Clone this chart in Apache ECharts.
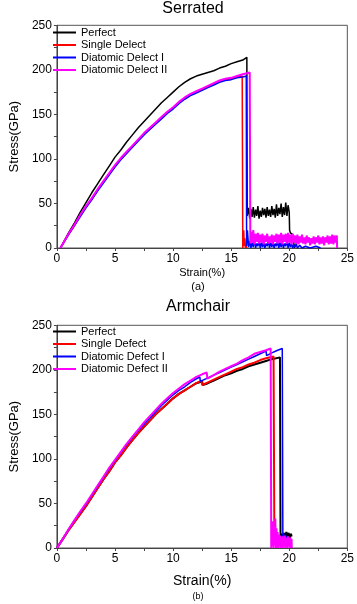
<!DOCTYPE html>
<html>
<head>
<meta charset="utf-8">
<script src="https://cdn.jsdelivr.net/npm/echarts@6/dist/echarts.min.js"></script>
<style>
  html, body { margin: 0; padding: 0; background: #fff; }
  #chart { width: 357px; height: 604px; }
</style>
</head>
<body>
<div id="chart"></div>
<script>
// (a) Serrated - [strain %, stress GPa]
var serPerfect = [[0.3,0],[1,17],[1.5,28],[2,40],[2.5,51],[3,62],[3.5,72],[4,82],[4.5,92],[5,102],[5.5,110],[6,119],[6.5,127],[7,135],[7.5,142],[8,149],[8.5,156],[9,163],[9.5,169],[10,175],[10.5,181],[11,186],[11.5,190],[12,193],[12.5,195],[13,197],[13.5,199],[14,202],[14.5,204],[15,207],[15.5,209],[16,211],[16.35,214],
  [16.38,36],[16.5,45],[16.6,33],[16.7,44],[16.8,35],[16.9,46],[17,34],[17.1,43],[17.2,36],[17.3,47],[17.4,33],[17.5,42],[17.6,35],[17.7,45],[17.8,37],[17.9,44],[18,34],[18.1,46],[18.2,36],[18.3,43],[18.4,35],[18.5,47],[18.6,37],[18.7,44],[18.8,34],[18.9,49],[19,36],[19.1,45],[19.2,38],[19.3,50],[19.4,35],[19.5,46],[19.6,37],[19.7,51],[19.8,36],[19.9,48],[20,40],[20.03,20],[20.1,17],[20.2,19],[20.3,15],[20.4,17],[20.45,0]];
var serSingle = [[0.3,0],[1,15],[1.5,25],[2,36],[2.5,46],[3,55],[3.5,65],[4,74],[4.5,83],[5,92],[5.5,100],[6,107],[6.5,114],[7,121],[7.5,128],[8,134],[8.5,140],[9,146],[9.5,152],[10,157],[10.5,163],[11,168],[11.5,172],[12,175],[12.5,178],[13,181],[13.5,184],[14,187],[14.5,189],[15,190],[15.5,192],[15.95,193],
  [16,0],[16.08,20],[16.13,2],[16.18,11],[16.23,0],[16.28,5],[16.33,0]];
var serDiatomic1 = [[0.3,0],[1,15],[1.5,25],[2,35],[2.5,45],[3,54],[3.5,64],[4,73],[4.5,82],[5,91],[5.5,99],[6,106],[6.5,113],[7,120],[7.5,127],[8,133],[8.5,139],[9,145],[9.5,151],[10,156],[10.5,162],[11,167],[11.5,171],[12,174],[12.5,177],[13,180],[13.5,183],[14,186],[14.5,188],[15,189],[15.5,191],[16,192],[16.3,193],
  [16.33,2],[16.4,20],[16.5,1],[16.6,8],[16.7,0],[16.8,6],[16.9,1],[17,9],[17.1,0],[17.2,5],[17.3,2],[17.4,8],[17.5,0],[17.6,6],[17.7,1],[17.8,7],[17.9,0],[18,5],[18.1,2],[18.2,8],[18.3,0],[18.4,6],[18.5,1],[18.6,7],[18.7,0],[18.8,5],[18.9,2],[19,8],[19.1,0],[19.2,6],[19.3,1],[19.4,7],[19.5,0],[19.6,5],[19.7,2],[19.8,8],[19.9,0],[20,6],[20.1,1],[20.2,5],[20.3,0],[20.4,4],[20.5,1],[20.6,5],[20.7,0],[20.9,3],[21.1,0],[21.4,2],[21.8,0],[22.3,2],[22.7,0]];
var serDiatomic2 = [[0.3,0],[1,16],[1.5,26],[2,37],[2.5,47],[3,56],[3.5,66],[4,75],[4.5,84],[5,93],[5.5,101],[6,108],[6.5,115],[7,122],[7.5,129],[8,135],[8.5,141],[9,147],[9.5,153],[10,158],[10.5,164],[11,169],[11.5,173],[12,176],[12.5,179],[13,182],[13.5,185],[14,188],[14.5,190],[15,191],[15.5,193],[16,195],[16.6,197],
  [16.65,5],[16.7,18],[16.8,6],[16.9,20],[17,4],[17.1,16],[17.2,7],[17.3,17],[17.4,5],[17.5,15],[17.6,6],[17.7,16],[17.8,4],[17.9,14],[18,7],[18.1,16],[18.2,5],[18.3,13],[18.4,6],[18.5,15],[18.6,4],[18.7,14],[18.8,7],[18.9,16],[19,5],[19.1,15],[19.2,6],[19.3,17],[19.4,4],[19.5,15],[19.6,7],[19.7,16],[19.8,5],[19.9,17],[20,6],[20.1,15],[20.2,4],[20.3,16],[20.4,6],[20.5,14],[20.6,5],[20.7,15],[20.8,4],[20.9,13],[21,6],[21.1,15],[21.2,5],[21.3,12],[21.4,4],[21.5,14],[21.6,6],[21.7,12],[21.8,3],[21.9,11],[22,5],[22.1,13],[22.2,4],[22.3,12],[22.4,6],[22.5,14],[22.6,4],[22.7,12],[22.8,5],[22.9,13],[23,3],[23.1,12],[23.2,6],[23.3,14],[23.4,4],[23.5,13],[23.6,5],[23.7,15],[23.8,4],[23.9,14],[24,6],[24.1,14],[24.12,0]];

// (b) Armchair
var armPerfect = [[0,0],[0.5,10],[1,20],[1.5,29],[2,38],[2.5,47],[3,57],[3.5,67],[4,77],[4.5,86],[5,96],[5.5,104],[6,113],[6.5,121],[7,129],[7.5,136],[8,143],[8.5,150],[9,156],[9.5,162],[10,168],[10.5,173],[11,177],[11.5,181],[12,185],[12.5,187],[12.55,183],[13,185],[13.5,188],[14,191],[14.5,194],[15,196],[15.5,199],[16,201],[16.5,204],[17,206],[17.5,208],[18,210],[18.5,212],[19.2,214],
  [19.25,12],[19.35,16],[19.45,10],[19.55,17],[19.65,11],[19.75,18],[19.85,12],[19.95,17],[20.05,11],[20.15,16],[20.2,13]];
var armSingle = [[0,0],[0.5,10],[1,20],[1.5,29],[2,38],[2.5,47],[3,57],[3.5,67],[4,77],[4.5,86],[5,96],[5.5,104],[6,113],[6.5,121],[7,129],[7.5,136],[8,143],[8.5,150],[9,156],[9.5,162],[10,168],[10.5,173],[11,177],[11.5,181],[12,185],[12.45,188],[12.5,183],[13,186],[13.5,189],[14,192],[14.5,195],[15,198],[15.5,201],[16,203],[16.5,206],[17,208],[17.5,211],[18,213],[18.65,215],
  [18.7,215],[18.72,5],[18.8,20],[18.85,3],[18.9,10],[18.95,0]];
var armDiatomic1 = [[0,0],[0.5,10],[1,21],[1.5,31],[2,40],[2.5,49],[3,59],[3.5,69],[4,79],[4.5,89],[5,98],[5.5,107],[6,116],[6.5,124],[7,132],[7.5,139],[8,146],[8.5,153],[9,160],[9.5,166],[10,172],[10.5,177],[11,181],[11.5,186],[12,190],[12.3,192],[12.35,187],[13,191],[13.5,194],[14,197],[14.5,200],[15,203],[15.5,206],[16,209],[16.5,212],[17,215],[17.5,218],[18,221],[18.05,216],[18.5,219],[19,222],[19.4,224],
  [19.45,10],[19.5,17],[19.6,9],[19.7,14],[19.8,10]];
var armDiatomic2 = [[0,0],[0.5,10],[1,21],[1.5,31],[2,41],[2.5,50],[3,60],[3.5,70],[4,80],[4.5,90],[5,99],[5.5,108],[6,117],[6.5,125],[7,133],[7.5,141],[8,148],[8.5,155],[9,162],[9.5,168],[10,174],[10.5,179],[11,184],[11.5,188],[12,192],[12.5,195],[12.9,197],[12.95,190],[13.5,194],[14,198],[14.5,201],[15,204],[15.5,207],[16,211],[16.5,214],[17,218],[17.5,220],[18,222],[18.4,224],
  [18.45,0],[18.5,25],[18.55,2],[18.6,30],[18.65,0],[18.7,20],[18.75,3],[18.8,33],[18.85,0],[18.9,22],[18.95,1],[19,18],[19.05,0],[19.1,15],[19.15,2],[19.2,14],[19.25,0],[19.3,12],[19.35,1],[19.4,13],[19.45,0],[19.5,11],[19.55,2],[19.6,14],[19.65,0],[19.7,12],[19.75,1],[19.8,10],[19.85,0],[19.9,13],[19.95,2],[20,11],[20.05,0],[20.1,12],[20.15,1],[20.2,10],[20.22,0]];

var xTicks = { min: 0, max: 25, interval: 5 };
var yTicks = { min: 0, max: 250, interval: 50 };

var colors = ['#000000', '#ff0000', '#0000ff', '#ff00ff'];
var namesA = ['Perfect', 'Single Delect', 'Diatomic Delect I', 'Diatomic Delect II'];
var namesB = ['Perfect', 'Single Defect', 'Diatomic Defect I', 'Diatomic Defect II'];
var font = "'Liberation Sans', Arial, sans-serif";

var chart = echarts.init(document.getElementById('chart'));

var xAxisOf = function (idx, gap, size) {
    return {
        type: 'value', gridIndex: idx, min: xTicks.min, max: xTicks.max, interval: xTicks.interval,
        name: 'Strain(%)', nameLocation: 'middle', nameGap: gap,
        nameTextStyle: { color: '#000', fontSize: size, fontFamily: font },
        axisLine: { onZero: false, lineStyle: { color: '#444', width: 1 } },
        axisTick: { inside: false, length: 3, lineStyle: { color: '#444' } },
        minorTick: { show: true, splitNumber: 2, length: 3, lineStyle: { color: '#444' } },
        axisLabel: { color: '#000', fontSize: 12, fontFamily: font, margin: 5 },
        splitLine: { show: false }
    };
};
var yAxisOf = function (idx) {
    return {
        type: 'value', gridIndex: idx, min: yTicks.min, max: yTicks.max, interval: yTicks.interval,
        name: 'Stress(GPa)', nameLocation: 'middle', nameGap: 33, nameRotate: 90,
        nameTextStyle: { color: '#000', fontSize: 13, fontFamily: font },
        axisLine: { onZero: false, lineStyle: { color: '#444', width: 1 } },
        axisTick: { inside: false, length: 3, lineStyle: { color: '#444' } },
        minorTick: { show: true, splitNumber: 2, length: 3, lineStyle: { color: '#444' } },
        axisLabel: { color: '#000', fontSize: 12, fontFamily: font, margin: 5 },
        splitLine: { show: false }
    };
};
var lineOf = function (name, idx, data, color, width) {
    return {
        name: name, type: 'line', xAxisIndex: idx, yAxisIndex: idx, data: data,
        symbol: 'none', animation: false, color: color,
        lineStyle: { color: color, width: width }
    };
};
var legendOf = function (names, top) {
    return {
        data: names, orient: 'vertical', left: 52, top: top, padding: 0,
        itemWidth: 23, itemHeight: 12, itemGap: 0.5,
        textStyle: { color: '#000', fontSize: 11, lineHeight: 12, fontFamily: font },
        itemStyle: { opacity: 0 }, selectedMode: false
    };
};

var option = {
    backgroundColor: '#fff',
    animation: false,
    grid: [
        { left: 48.7, top: 25.3, width: 299.3, height: 222.7, show: true, borderColor: '#555', borderWidth: 1 },
        { left: 48.7, top: 325.3, width: 299.3, height: 222.7, show: true, borderColor: '#555', borderWidth: 1 }
    ],
    legend: [legendOf(namesA, 26.5), legendOf(namesB, 325.5)],
    xAxis: [xAxisOf(0, 19, 11), xAxisOf(1, 26, 14)],
    yAxis: [yAxisOf(0), yAxisOf(1)],
    graphic: [
        { type: 'text', x: 193, y: 9, style: { text: 'Serrated', fill: '#000', font: '16px ' + font, textAlign: 'center', textVerticalAlign: 'middle' } },
        { type: 'text', x: 198, y: 287, style: { text: '(a)', fill: '#000', font: '11px ' + font, textAlign: 'center', textVerticalAlign: 'middle' } },
        { type: 'text', x: 198, y: 307, style: { text: 'Armchair', fill: '#000', font: '16px ' + font, textAlign: 'center', textVerticalAlign: 'middle' } },
        { type: 'text', x: 198, y: 597, style: { text: '(b)', fill: '#000', font: '9px ' + font, textAlign: 'center', textVerticalAlign: 'middle' } }
    ],
    series: [
        lineOf(namesA[0], 0, serPerfect, colors[0], 1.5),
        lineOf(namesA[1], 0, serSingle, colors[1], 1.5),
        lineOf(namesA[2], 0, serDiatomic1, colors[2], 1.5),
        lineOf(namesA[3], 0, serDiatomic2, colors[3], 2),
        lineOf(namesB[0], 1, armPerfect, colors[0], 2),
        lineOf(namesB[1], 1, armSingle, colors[1], 2),
        lineOf(namesB[2], 1, armDiatomic1, colors[2], 1.5),
        lineOf(namesB[3], 1, armDiatomic2, colors[3], 2)
    ]
};
chart.setOption(option);
</script>
</body>
</html>
